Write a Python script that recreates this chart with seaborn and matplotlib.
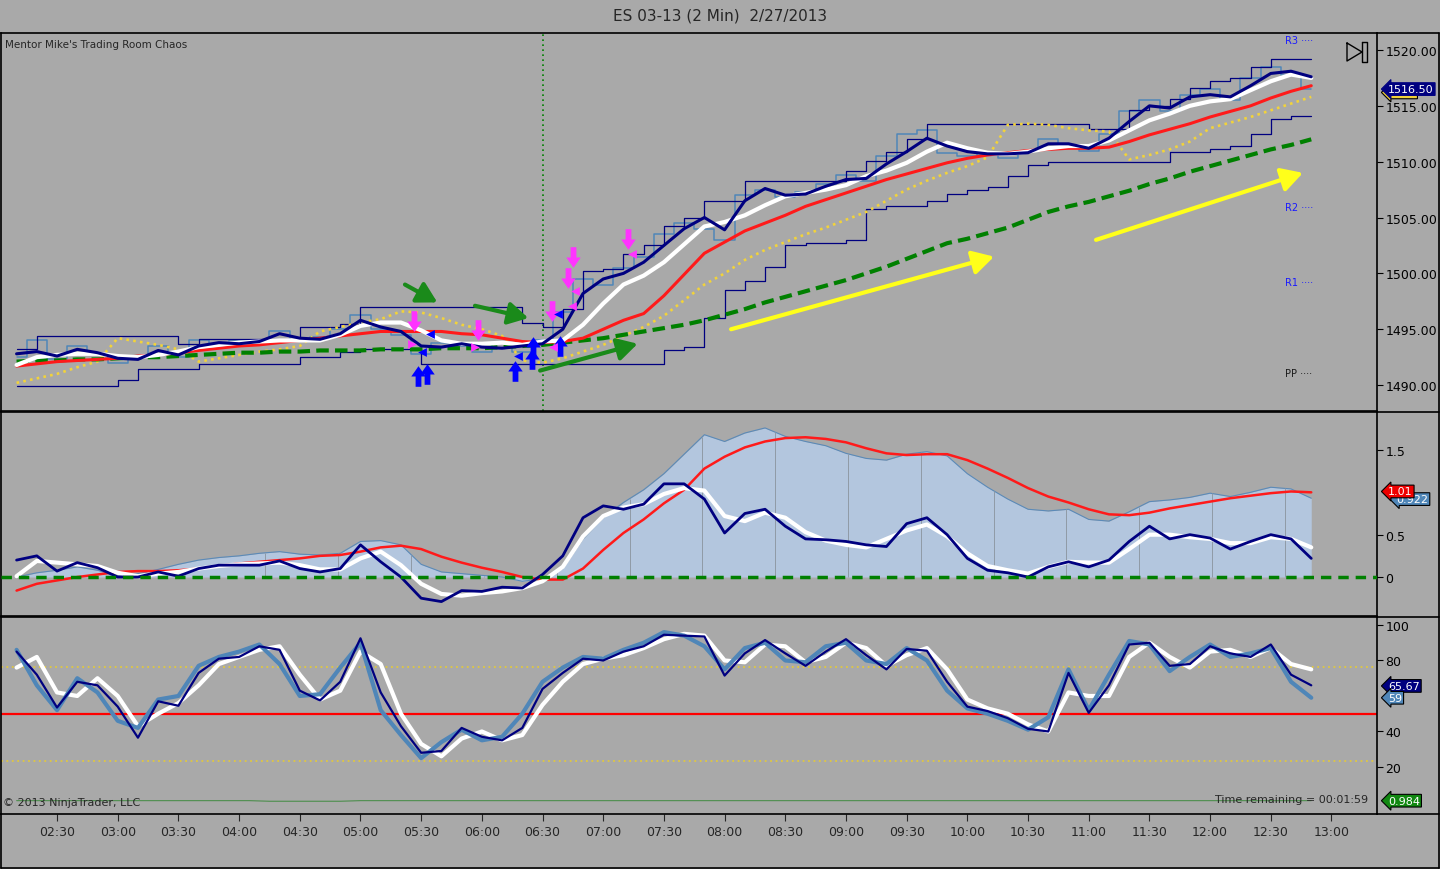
import numpy as np
import seaborn as sns
import matplotlib.pyplot as plt
from matplotlib.path import Path
from matplotlib.lines import Line2D

# ---- values: minutes after midnight, one sample every 10 min ----
minutes = list(range(130, 771, 10))

price = [1492.5, 1494.0, 1492.3, 1493.5, 1492.8, 1492.0, 1492.5, 1493.5, 1492.5, 1494.0,
         1493.5, 1494.0, 1493.8, 1494.8, 1494.0, 1494.3, 1495.0, 1496.3, 1495.0, 1494.5,
         1492.8, 1493.8, 1493.5, 1493.0, 1493.8, 1493.0, 1494.0, 1496.5, 1499.5, 1499.0,
         1500.5, 1501.5, 1503.5, 1504.5, 1504.0, 1503.0, 1507.0, 1507.5, 1506.8, 1507.3,
         1508.0, 1508.8, 1508.3, 1510.5, 1512.5, 1512.8, 1510.8, 1510.5, 1510.8, 1510.3,
         1511.0, 1512.0, 1511.5, 1511.0, 1512.5, 1514.5, 1515.5, 1514.5, 1516.0, 1516.5,
         1515.5, 1517.5, 1518.5, 1517.8, 1516.5]
fast_ma = [1492.8, 1493.0, 1492.6, 1493.2, 1492.9, 1492.4, 1492.3, 1493.1, 1492.7, 1493.5,
           1493.8, 1493.7, 1493.9, 1494.6, 1494.2, 1494.1, 1494.6, 1495.8, 1495.2, 1494.8,
           1493.5, 1493.4, 1493.7, 1493.4, 1493.3, 1493.5, 1493.7, 1495.0, 1498.2, 1499.5,
           1500.0, 1501.0, 1502.5, 1504.0, 1505.0, 1503.9, 1506.5, 1507.6, 1507.0, 1507.1,
           1507.8, 1508.4, 1508.5, 1509.8, 1510.9, 1512.1, 1511.4, 1510.9, 1510.7, 1510.7,
           1510.8, 1511.6, 1511.6, 1511.2, 1512.1, 1513.6, 1515.0, 1514.8, 1515.8, 1516.0,
           1515.8, 1516.8, 1517.9, 1518.1, 1517.6]
white_ma = [1491.8, 1492.5, 1492.7, 1492.8, 1492.8, 1492.6, 1492.5, 1492.7, 1493.0, 1493.4,
            1493.6, 1493.8, 1493.9, 1494.0, 1494.0, 1494.0, 1494.5, 1495.3, 1495.6, 1495.6,
            1494.9, 1494.0, 1493.7, 1493.7, 1493.8, 1493.6, 1493.9, 1494.0, 1495.4, 1497.3,
            1499.0, 1499.8, 1501.0, 1502.6, 1504.2, 1504.6, 1505.2, 1506.1, 1506.9, 1507.2,
            1507.5, 1507.9, 1508.7, 1509.2, 1509.9, 1510.9, 1511.7, 1511.2, 1510.8, 1510.7,
            1510.9, 1511.2, 1511.4, 1511.4, 1511.9, 1512.8, 1513.7, 1514.3, 1515.0, 1515.4,
            1515.6, 1516.4, 1517.2, 1517.8, 1517.5]
red_ema = [1491.7, 1491.9, 1492.1, 1492.2, 1492.3, 1492.4, 1492.6, 1492.7, 1492.9, 1493.1,
           1493.3, 1493.5, 1493.6, 1493.8, 1494.0, 1494.2, 1494.4, 1494.6, 1494.8, 1494.8,
           1494.8, 1494.8, 1494.6, 1494.5, 1494.2, 1493.9, 1493.8, 1493.9, 1494.2, 1495.0,
           1495.8, 1496.4, 1498.0, 1499.9, 1501.8, 1502.8, 1503.8, 1504.5, 1505.2, 1506.0,
           1506.6, 1507.2, 1507.8, 1508.4, 1508.9, 1509.4, 1509.9, 1510.3, 1510.6, 1510.8,
           1511.0, 1511.1, 1511.2, 1511.2, 1511.3, 1511.8, 1512.4, 1512.9, 1513.4, 1514.0,
           1514.5, 1515.0, 1515.7, 1516.3, 1516.8]
trail_stop = [1490.2, 1490.6, 1491.0, 1491.6, 1492.1, 1494.2, 1493.9, 1493.6, 1493.2, 1492.1,
              1492.4, 1492.7, 1493.0, 1493.2, 1493.5, 1494.8, 1495.2, 1495.6, 1495.9, 1496.6,
              1496.5, 1496.0, 1495.4, 1495.0, 1494.4, 1492.2, 1492.0, 1492.4, 1493.0, 1493.6,
              1494.4, 1495.2, 1496.2, 1497.6, 1499.0, 1500.0, 1501.2, 1502.1, 1502.8, 1503.5,
              1504.1, 1504.8, 1505.5, 1506.5, 1507.5, 1508.3, 1509.0, 1509.6, 1510.4, 1513.3,
              1513.4, 1513.3, 1513.0, 1512.8, 1512.7, 1510.2, 1510.6, 1511.1, 1511.8, 1513.0,
              1513.5, 1514.0, 1514.6, 1515.2, 1515.8]
slow_sma = [1492.1, 1492.2, 1492.2, 1492.3, 1492.3, 1492.4, 1492.5, 1492.5, 1492.6, 1492.7,
            1492.8, 1492.9, 1492.9, 1493.0, 1493.0, 1493.1, 1493.1, 1493.1, 1493.2, 1493.2,
            1493.2, 1493.3, 1493.3, 1493.3, 1493.4, 1493.5, 1493.6, 1493.8, 1494.0, 1494.2,
            1494.5, 1494.8, 1495.1, 1495.4, 1495.8, 1496.3, 1496.8, 1497.4, 1497.9, 1498.4,
            1498.9, 1499.4, 1500.0, 1500.6, 1501.3, 1502.0, 1502.7, 1503.1, 1503.6, 1504.1,
            1504.8, 1505.5, 1506.0, 1506.4, 1506.9, 1507.4, 1508.0, 1508.5, 1509.1, 1509.6,
            1510.1, 1510.6, 1511.1, 1511.5, 1512.0]
chan_hi = [1493.2, 1494.4, 1494.4, 1494.4, 1494.4, 1494.4, 1494.4, 1494.4, 1493.7, 1494.1,
           1494.1, 1494.1, 1494.1, 1494.1, 1495.2, 1495.2, 1495.5, 1497.0, 1497.0, 1497.0,
           1497.0, 1497.0, 1497.0, 1497.0, 1497.0, 1495.6, 1495.2, 1496.8, 1500.2, 1500.4,
           1501.7, 1502.5, 1504.2, 1505.0, 1506.5, 1506.5, 1508.3, 1508.3, 1508.3, 1508.3,
           1508.3, 1509.2, 1510.1, 1510.9, 1512.0, 1513.4, 1513.4, 1513.4, 1513.4, 1513.4,
           1513.4, 1513.4, 1513.4, 1512.9, 1512.9, 1514.6, 1515.0, 1515.6, 1516.6, 1517.2,
           1517.5, 1518.5, 1519.2, 1519.2, 1519.2]
chan_lo = [1489.9, 1489.9, 1489.9, 1489.9, 1489.9, 1490.5, 1491.4, 1491.4, 1491.4, 1491.9,
           1491.9, 1491.9, 1491.9, 1491.9, 1492.5, 1492.5, 1493.0, 1493.2, 1493.2, 1493.2,
           1491.9, 1491.9, 1491.9, 1491.9, 1491.9, 1491.9, 1491.9, 1491.9, 1491.9, 1491.9,
           1491.9, 1491.9, 1493.1, 1493.4, 1496.0, 1498.5, 1499.3, 1500.6, 1502.5, 1502.7,
           1502.7, 1503.0, 1505.8, 1506.0, 1506.0, 1506.5, 1507.1, 1507.5, 1507.7, 1508.7,
           1509.7, 1510.0, 1510.0, 1510.0, 1510.0, 1510.0, 1510.0, 1510.9, 1510.9, 1511.1,
           1511.4, 1512.5, 1513.8, 1514.1, 1514.1]

pivot_names = ["R3", "R2", "R1", "PP"]
pivot_levels = [1520.9, 1505.9, 1499.2, 1491.1]
session_open = 390  # 06:30

sell_t = [326.5, 358.1, 394.7, 402.6, 405.1, 432.3]
sell_p = [1495.7, 1494.9, 1496.6, 1499.6, 1501.5, 1503.1]
buy_t = [328.4, 332.9, 376.4, 384.8, 385.3, 398.6]
buy_p = [1490.8, 1491.0, 1491.3, 1492.3, 1493.4, 1493.5]
blue_left_t = [334.4, 330.4, 377.9, 397.7]
blue_left_p = [1494.6, 1493.0, 1492.6, 1496.4]
pink_right_t = [325.5, 356.6]
pink_right_p = [1493.7, 1493.4]
pink_left_t = [395.2, 404.6, 406.1, 434.2]
pink_left_p = [1493.4, 1497.1, 1498.4, 1501.7]

# hand-drawn arrows: (t0, p0, t1, p1)
green_arrows = [(322.0, 1499.0, 338.0, 1497.4),
                (356.6, 1497.1, 383.0, 1496.0),
                (388.8, 1491.3, 437.0, 1493.7)]
yellow_arrows = [(483.2, 1495.0, 613.2, 1501.5),
                 (663.6, 1503.0, 765.9, 1509.0)]

macd_line = [0.20, 0.25, 0.07, 0.17, 0.11, 0.00, 0.00, 0.06, 0.01, 0.10,
             0.14, 0.14, 0.14, 0.19, 0.10, 0.06, 0.10, 0.38, 0.18, 0.00,
             -0.25, -0.29, -0.16, -0.17, -0.12, -0.13, 0.03, 0.25, 0.70, 0.84,
             0.80, 0.86, 1.10, 1.10, 0.92, 0.52, 0.75, 0.80, 0.60, 0.45,
             0.44, 0.42, 0.38, 0.36, 0.63, 0.70, 0.50, 0.22, 0.08, 0.05,
             0.00, 0.12, 0.18, 0.12, 0.20, 0.42, 0.60, 0.45, 0.50, 0.46,
             0.33, 0.42, 0.50, 0.45, 0.22]
macd_signal = [0.01, 0.19, 0.17, 0.15, 0.13, 0.05, 0.01, 0.04, 0.06, 0.10,
               0.13, 0.15, 0.16, 0.17, 0.14, 0.09, 0.09, 0.22, 0.30, 0.14,
               -0.08, -0.20, -0.22, -0.19, -0.17, -0.13, -0.05, 0.12, 0.48, 0.72,
               0.82, 0.86, 0.98, 1.05, 1.02, 0.72, 0.66, 0.76, 0.70, 0.53,
               0.43, 0.38, 0.35, 0.45, 0.55, 0.62, 0.48, 0.28, 0.13, 0.08,
               0.04, 0.12, 0.18, 0.17, 0.17, 0.33, 0.50, 0.50, 0.47, 0.45,
               0.40, 0.40, 0.47, 0.45, 0.35]
macd_slow = [-0.16, -0.08, -0.04, 0.00, 0.03, 0.06, 0.07, 0.07, 0.08, 0.10,
             0.13, 0.16, 0.18, 0.20, 0.22, 0.25, 0.26, 0.30, 0.35, 0.37,
             0.33, 0.24, 0.17, 0.11, 0.06, 0.00, -0.03, -0.03, 0.10, 0.32,
             0.52, 0.68, 0.87, 1.03, 1.28, 1.42, 1.53, 1.60, 1.64, 1.65,
             1.63, 1.59, 1.52, 1.46, 1.44, 1.45, 1.45, 1.38, 1.28, 1.17,
             1.05, 0.95, 0.88, 0.80, 0.74, 0.73, 0.76, 0.81, 0.85, 0.89,
             0.93, 0.96, 0.99, 1.01, 1.00]
macd_area = [0.00, 0.05, 0.08, 0.12, 0.08, 0.01, 0.04, 0.09, 0.15, 0.20,
             0.23, 0.25, 0.28, 0.30, 0.27, 0.26, 0.28, 0.42, 0.43, 0.38,
             0.15, 0.06, 0.04, 0.02, 0.00, -0.05, -0.02, 0.10, 0.45, 0.70,
             0.88, 1.03, 1.22, 1.45, 1.68, 1.60, 1.70, 1.76, 1.66, 1.60,
             1.55, 1.46, 1.40, 1.38, 1.45, 1.48, 1.43, 1.22, 1.06, 0.92,
             0.80, 0.78, 0.80, 0.68, 0.66, 0.77, 0.89, 0.91, 0.94, 0.99,
             0.95, 1.00, 1.06, 1.04, 0.93]

stoch_k = [85, 72, 53.5, 68, 66, 54, 36.5, 57, 54.5, 73,
           81, 82, 88, 86, 63, 57.5, 68, 92.5, 62, 43,
           28, 29, 42, 37, 35, 42, 64, 73, 81, 80,
           85, 88, 94.5, 94, 93.5, 71.5, 84, 91.5, 84, 77,
           85, 92, 83, 75, 86.5, 85.5, 68, 54, 51.5, 47.5,
           41.5, 40, 73, 50.5, 66, 89, 90, 77, 78, 88,
           84, 82, 89, 72, 66]
stoch_fast = [86, 66, 52, 70, 62, 46, 42, 58, 60, 77,
              82, 85, 89, 78, 60, 61, 76, 90, 52, 38,
              25, 34, 41, 35, 37, 50, 68, 76, 82, 81,
              86, 90, 96, 94, 88, 75, 87, 90, 80, 79,
              88, 90, 80, 78, 87, 80, 63, 53, 50, 46,
              41, 48, 75, 52, 72, 91, 89, 74, 82, 89,
              82, 84, 87, 68, 59]
stoch_d = [76, 82, 62, 60, 70, 60, 43, 50, 56, 66,
           78, 82, 86, 88, 72, 58, 63, 85, 78, 50,
           33, 26, 36, 40, 35, 38, 55, 68, 78, 81,
           83, 87, 92, 95, 94, 80, 79, 89, 88, 79,
           82, 90, 87, 77, 83, 87, 75, 58, 53, 50,
           44, 40, 62, 60, 60, 82, 90, 82, 76, 85,
           86, 82, 87, 78, 75]
stoch_levels = [76.4, 23.6]
ratio_t = [130, 245, 255, 290, 300, 770]
ratio_v = [1.0, 1.0, 0.7, 0.7, 1.0, 1.0]

tags_price = [("1516.50", 1516.5)]
tags_macd = [("0.922", 0.92), ("1.01", 1.01)]
tags_stoch = [("65.67", 65.67), ("59", 59.0), ("0.984", 1.0)]

# ---- figure ----
sns.set_style("white")
plt.rcParams['font.family'] = ['DejaVu Sans']

BG = '#a9a9a9'
NAVY = '#000080'
STEEL = '#4f86b8'
GOLD = '#f2d33a'

fig = plt.figure(figsize=(14.4, 8.7), dpi=100)
fig.patch.set_facecolor(BG)


def fx(px):
    return px / 1440


def fy(py):
    return 1 - py / 870


W = fx(1376)
ax_p = fig.add_axes([fx(1), fy(412), W, (412 - 34) / 870])
ax_m = fig.add_axes([fx(1), fy(617), W, (617 - 413) / 870], sharex=ax_p)
ax_s = fig.add_axes([fx(1), fy(815), W, (815 - 618) / 870], sharex=ax_p)

for ax in (ax_p, ax_m, ax_s):
    ax.set_facecolor(BG)
    for sp in ax.spines.values():
        sp.set_color('black')
        sp.set_linewidth(1.2)
    ax.yaxis.tick_right()
    ax.tick_params(axis='y', direction='out', length=4, width=0.8, pad=2,
                   labelsize=9, colors='black')

ax_p.set_xlim(122.3, 802.5)

# ---- price panel ----
ax_p.axvline(session_open, color='#008000', ls=(0, (1, 2)), lw=1.2)
sns.lineplot(x=minutes, y=price, ax=ax_p, color=STEEL, lw=1.1, drawstyle='steps-mid')
sns.lineplot(x=minutes, y=chan_hi, ax=ax_p, color=NAVY, lw=0.9, drawstyle='steps-post')
sns.lineplot(x=minutes, y=chan_lo, ax=ax_p, color=NAVY, lw=0.9, drawstyle='steps-post')
sns.lineplot(x=minutes, y=trail_stop, ax=ax_p, color=GOLD, lw=1.9, linestyle=(0, (1, 1.6)))
sns.lineplot(x=minutes, y=slow_sma, ax=ax_p, color='#008000', lw=3, linestyle=(0, (3, 1.5)))
sns.lineplot(x=minutes, y=red_ema, ax=ax_p, color='#ff1a1a', lw=2.2)
sns.lineplot(x=minutes, y=white_ma, ax=ax_p, color='white', lw=3)
sns.lineplot(x=minutes, y=fast_ma, ax=ax_p, color=NAVY, lw=2.2)

down_arrow = Path([(-0.28, 1), (0.28, 1), (0.28, 0), (0.7, 0), (0, -1), (-0.7, 0), (-0.28, 0), (-0.28, 1)],
                  [Path.MOVETO] + [Path.LINETO] * 6 + [Path.CLOSEPOLY])
up_arrow = Path([(x, -y) for x, y in down_arrow.vertices], down_arrow.codes)
ax_p.scatter(sell_t, sell_p, marker=down_arrow, s=220, color='#ff33ff', linewidths=0, zorder=6)
ax_p.scatter(buy_t, buy_p, marker=up_arrow, s=220, color='#0000ff', linewidths=0, zorder=6)
ax_p.scatter(blue_left_t, blue_left_p, marker='<', s=40, color='#0000ff', linewidths=0, zorder=6)
ax_p.scatter(pink_right_t, pink_right_p, marker='>', s=40, color='#ff33ff', linewidths=0, zorder=6)
ax_p.scatter(pink_left_t, pink_left_p, marker='<', s=40, color='#ff33ff', linewidths=0, zorder=6)

arrow_style = '-|>,head_length=0.8,head_width=0.45'
for t0, p0, t1, p1 in green_arrows:
    ax_p.annotate('', xy=(t1, p1), xytext=(t0, p0),
                  arrowprops=dict(arrowstyle=arrow_style, color='#1a8a1a',
                                  lw=3, mutation_scale=15, shrinkA=0, shrinkB=0), zorder=7)
for t0, p0, t1, p1 in yellow_arrows:
    ax_p.annotate('', xy=(t1, p1), xytext=(t0, p0),
                  arrowprops=dict(arrowstyle=arrow_style, color='#ffff1a',
                                  lw=3, mutation_scale=16, shrinkA=0, shrinkB=0), zorder=7)

for name, lvl in zip(pivot_names, pivot_levels):
    ax_p.text(757, lvl, name + ' ····', fontsize=7, va='center', ha='left',
              color='#1a1aff' if name != 'PP' else '#1a1a1a')

ax_p.text(0.003, 0.985, "Mentor Mike's Trading Room Chaos", transform=ax_p.transAxes,
          fontsize=7.5, va='top', ha='left')
ax_p.set_ylim(1487.68, 1521.52)
ax_p.set_yticks([1490, 1495, 1500, 1505, 1510, 1515, 1520])
ax_p.set_yticklabels([f'{v:.2f}' for v in [1490, 1495, 1500, 1505, 1510, 1515, 1520]])

# ---- MACD-style panel ----
ax_m.fill_between(minutes, 0, macd_area, color='#b3c6de', lw=0, zorder=1)
sns.lineplot(x=minutes, y=macd_area, ax=ax_m, color='#5b8ab8', lw=0.8)
seams = np.arange(253, 771, 36)
ax_m.vlines(seams, 0, np.interp(seams, minutes, macd_area), color='#8f9aa6', lw=0.7, zorder=2)
ax_m.axhline(0, color='#008000', lw=2.5, ls=(0, (3, 2)), zorder=3)
sns.lineplot(x=minutes, y=macd_slow, ax=ax_m, color='#ff1a1a', lw=1.8)
sns.lineplot(x=minutes, y=macd_signal, ax=ax_m, color='white', lw=3)
sns.lineplot(x=minutes, y=macd_line, ax=ax_m, color=NAVY, lw=2)
ax_m.set_ylim(-0.46, 1.948)
ax_m.set_yticks([0, 0.5, 1.5])
ax_m.set_yticklabels(['0', '0.5', '1.5'])

# ---- stochastic panel ----
ax_s.axhline(50, color='#ff0000', lw=1.6)
for lvl in stoch_levels:
    ax_s.axhline(lvl, color='#e0c840', lw=1.3, ls=(0, (1, 2)))
sns.lineplot(x=ratio_t, y=ratio_v, ax=ax_s, color='#3f8a3f', lw=0.7)
sns.lineplot(x=minutes, y=stoch_d, ax=ax_s, color='white', lw=3)
sns.lineplot(x=minutes, y=stoch_fast, ax=ax_s, color=STEEL, lw=3)
sns.lineplot(x=minutes, y=stoch_k, ax=ax_s, color=NAVY, lw=1.6)
ax_s.set_ylim(-6.5, 104.5)
ax_s.set_yticks([20, 40, 80, 100])
ax_s.text(0.0015, 0.035, '© 2013 NinjaTrader, LLC', transform=ax_s.transAxes, fontsize=8,
          va='bottom', ha='left')
ax_s.text(0.882, 0.075, 'Time remaining = 00:01:59', transform=ax_s.transAxes, fontsize=8,
          va='center', ha='left')

# x axis only on the bottom panel
xt = list(range(150, 781, 30))
ax_s.set_xticks(xt)
ax_s.set_xticklabels([f'{t // 60:02d}:{t % 60:02d}' for t in xt])
ax_s.tick_params(axis='x', direction='out', length=5, width=0.8, labelsize=9, pad=3, bottom=True)
for ax in (ax_p, ax_m):
    ax.tick_params(axis='x', bottom=False, labelbottom=False)
for ax in (ax_p, ax_m, ax_s):
    ax.set_xlabel('')
    ax.set_ylabel('')


# ---- value tags on the right scale ----
def tag(ax, text, y, fc, ec='black', dx=8):
    ax.annotate(text, xy=(1.0, y), xycoords=('axes fraction', 'data'), xytext=(dx, 0),
                textcoords='offset points', ha='left', va='center', fontsize=8, color='white',
                bbox=dict(boxstyle='larrow,pad=0.12', fc=fc, ec=ec, lw=0.8),
                annotation_clip=False, zorder=10)


tag(ax_p, '        ', 1516.2, GOLD)
tag(ax_p, tags_price[0][0], tags_price[0][1], NAVY, ec=NAVY)
tag(ax_m, tags_macd[0][0], tags_macd[0][1], STEEL, dx=14)
tag(ax_m, tags_macd[1][0], tags_macd[1][1], '#ee0000')
tag(ax_s, tags_stoch[0][0], tags_stoch[0][1], NAVY)
tag(ax_s, tags_stoch[1][0], tags_stoch[1][1], STEEL)
tag(ax_s, tags_stoch[2][0], tags_stoch[2][1], '#118811')


# ---- frame, title and the scroll icon ----
def fline(xs, ys, lw=1.2):
    fig.add_artist(Line2D([fx(x) for x in xs], [fy(y) for y in ys], color='black',
                          lw=lw, transform=fig.transFigure))


for yy in (34, 412.5, 617.5, 815):
    fline([1377, 1439], [yy, yy])
fline([1439, 1439], [34, 869])
fline([1, 1439], [869, 869])
fline([1, 1], [815, 869])
fline([1347, 1347, 1362, 1347], [44, 62, 53, 44], lw=1)
fline([1362, 1367, 1367, 1362, 1362], [43, 43, 63, 63, 43], lw=1)

fig.text(0.5, fy(16), 'ES 03-13 (2 Min)  2/27/2013', ha='center', va='center', fontsize=11)

fig.savefig('out.png', dpi=100, facecolor=BG)
